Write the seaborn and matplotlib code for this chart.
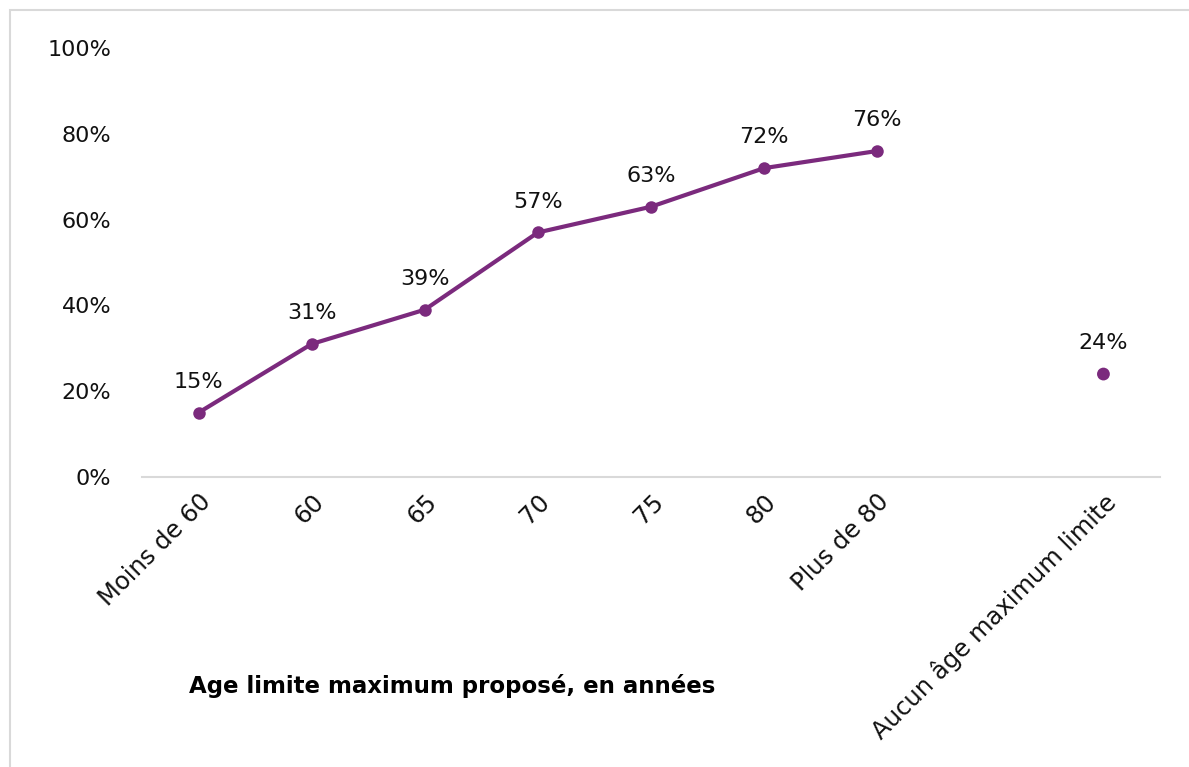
import pandas as pd
import seaborn as sns
import matplotlib.pyplot as plt
from matplotlib.patches import Rectangle

# data
categories = ["Moins de 60", "60", "65", "70", "75", "80", "Plus de 80", "", "Aucun âge maximum limite"]
line_values = [15, 31, 39, 57, 63, 72, 76]
no_limit_value = 24

purple = "#7B2A7D"

sns.set_theme(style="white")
plt.rcParams['font.family'] = ['DejaVu Sans']

line_df = pd.DataFrame({"pos": range(len(line_values)), "pct": line_values})
point_df = pd.DataFrame({"pos": [len(categories) - 1], "pct": [no_limit_value]})

fig = plt.figure(figsize=(11.89, 7.67), dpi=100)
ax = fig.add_axes([0.1194, 0.3781, 0.8562, 0.5593])

sns.lineplot(data=line_df, x="pos", y="pct", color=purple, linewidth=3,
             marker="o", markersize=9, markeredgewidth=0, ax=ax)
sns.scatterplot(data=point_df, x="pos", y="pct", color=purple, s=85,
                edgecolor="none", ax=ax)

# data labels
for _, row in pd.concat([line_df, point_df]).iterrows():
    ax.annotate(f"{int(row['pct'])}%", (row["pos"], row["pct"]),
                xytext=(0, 15), textcoords="offset points",
                ha="center", va="bottom", fontsize=16, color="#111111")

ax.set_xlim(-0.5, len(categories) - 0.5)
ax.set_ylim(0, 100)
ax.set_yticks(range(0, 101, 20))
ax.set_yticklabels([f"{v}%" for v in range(0, 101, 20)], fontsize=16, color="#111111")
ax.set_xticks(range(len(categories)))
ax.set_xticklabels(categories, fontsize=17.5, rotation=45, ha="right",
                   rotation_mode="anchor", color="#111111")
ax.tick_params(axis="y", length=0, pad=22)
ax.tick_params(axis="x", length=0, pad=9)
ax.set_xlabel("")
ax.set_ylabel("")

sns.despine(ax=ax, left=True, top=True, right=True)
ax.spines["bottom"].set_color("#D9D9D9")
ax.spines["bottom"].set_linewidth(1.5)

fig.text(452 / 1189, 1 - 686 / 767, "Age limite maximum proposé, en années",
         ha="center", va="center", fontsize=16.5, fontweight="bold", color="black")

# chart frame, cropped at right and bottom
fig.patches.append(Rectangle((10 / 1189, -0.1), 1.2, 1 - 10 / 767 + 0.1,
                             transform=fig.transFigure, fill=False,
                             edgecolor="#D9D9D9", linewidth=1.5))

fig.savefig("out.png", dpi=100)
